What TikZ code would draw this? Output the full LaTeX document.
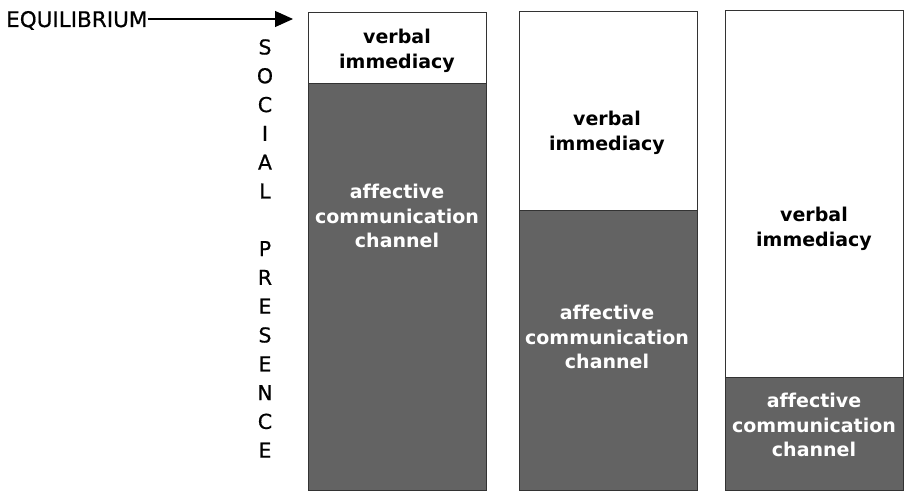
\documentclass[tikz,border=0pt]{standalone}
\usepackage{fontspec}
\setmainfont[Ligatures=NoCommon]{DejaVu Sans}
\newfontfamily\heavyfont[FakeBold=0.6]{DejaVu Sans}
\usetikzlibrary{arrows.meta}
\definecolor{barfill}{HTML}{636363}
\definecolor{barline}{HTML}{333333}
\begin{document}
\begin{tikzpicture}[x=1pt,y=-1pt,
  lbl/.style={font=\fontsize{19}{24.5}\selectfont\bfseries, align=center, inner sep=0pt},
  darklbl/.style={lbl,text=black},
  lightlbl/.style={lbl,text=white},
  bar/.style={draw=barline, line width=1pt, anchor=north west, inner sep=0pt, outer sep=0pt, minimum width=178pt},
  barwhite/.style={bar, fill=white},
  bargray/.style={bar, fill=barfill},
  letter/.style={font=\heavyfont\fontsize{20.5}{24}\selectfont, inner sep=0pt},
  eqlbl/.style={font=\heavyfont\fontsize{21.5}{24}\selectfont, inner sep=0pt, anchor=base west}]
\useasboundingbox[fill=white] (0,0) rectangle (906,492);

% bar 1
\node[bargray, minimum height=406pt] (g1) at (308,84) {};
\node[barwhite, minimum height=71pt] (w1) at (308,13) {};
% bar 2
\node[bargray, minimum height=279pt] (g2) at (519,211) {};
\node[barwhite, minimum height=199pt] (w2) at (519,12) {};
% bar 3
\node[bargray, minimum height=113pt] (g3) at (725,377) {};
\node[barwhite, minimum height=366pt] (w3) at (725,11) {};

% labels
\node[darklbl] (v1) at (397,51) {verbal\\immediacy};
\node[lightlbl] (a1) at (397,216) {affective\\communication\\channel};
\node[darklbl] (v2) at (607,133) {verbal\\immediacy};
\node[lightlbl] (a2) at (607,337) {affective\\communication\\channel};
\node[darklbl] (v3) at (814,229) {verbal\\immediacy};
\node[lightlbl] (a3) at (814,425) {affective\\communication\\channel};

% equilibrium arrow
\node[eqlbl] (eq) at (6,27) {EQUILIBRIUM};
\coordinate (tip) at (293,19);
\draw[line width=1.1pt, -{Triangle[length=18pt,width=16pt]}] (eq.east |- tip) -- (tip);

% vertical axis label
\foreach \l [count=\i] in {S,O,C,I,A,L,{},P,R,E,S,E,N,C,E}
  \node[letter] (sp\i) at (265,{47+(\i-1)*28.8}) {\l};
\end{tikzpicture}
\end{document}
